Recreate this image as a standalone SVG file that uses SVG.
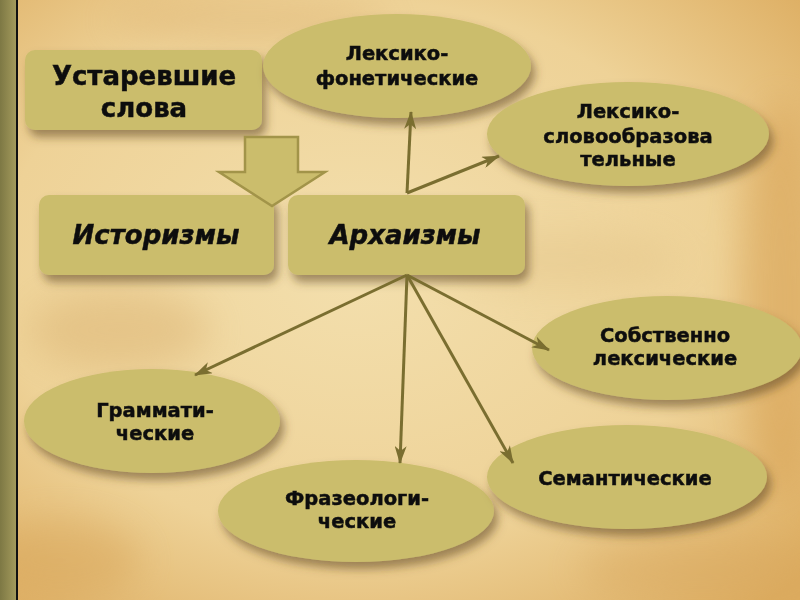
<svg xmlns="http://www.w3.org/2000/svg" width="800" height="600" viewBox="0 0 800 600">
<defs>
<style>
.node{fill:#cbbd6c}
.t{font-family:"DejaVu Sans","Liberation Sans",sans-serif;font-weight:bold;fill:#111;stroke:#111;stroke-width:0.5;text-anchor:middle}
.big{font-size:26px}
.it{font-style:italic}
.sm{font-size:19.5px}
.con{stroke:#7a6e30;stroke-width:3;fill:none;marker-end:url(#ah)}
</style>
<radialGradient id="bg" cx="45%" cy="45%" r="75%">
<stop offset="0" stop-color="#f3dfad"/>
<stop offset="0.6" stop-color="#eed297"/>
<stop offset="1" stop-color="#dcab5e"/>
</radialGradient>
<linearGradient id="strip" x1="0" y1="0" x2="1" y2="0">
<stop offset="0" stop-color="#7d7844"/>
<stop offset="1" stop-color="#a39a5c"/>
</linearGradient>
<filter id="sh" x="-20%" y="-20%" width="150%" height="160%">
<feDropShadow dx="4" dy="7" stdDeviation="5" flood-color="#5b4420" flood-opacity="0.55"/>
</filter>
<filter id="blur" x="-50%" y="-50%" width="200%" height="200%">
<feGaussianBlur stdDeviation="18"/>
</filter>
<marker id="ah" viewBox="0 0 18 12" refX="17" refY="6" markerWidth="18" markerHeight="12" markerUnits="userSpaceOnUse" orient="auto">
<path d="M0,0 L18,6 L0,12 L5,6 z" fill="#7a6e30"/>
</marker>
</defs>
<rect x="0" y="0" width="800" height="600" fill="url(#bg)"/>
<g filter="url(#blur)" opacity="0.45">
<ellipse cx="120" cy="330" rx="90" ry="40" fill="#d9b070"/>
<ellipse cx="560" cy="260" rx="120" ry="30" fill="#e3c488"/>
<ellipse cx="780" cy="300" rx="40" ry="200" fill="#d49a48"/>
<ellipse cx="60" cy="560" rx="80" ry="40" fill="#d7a458"/>
<ellipse cx="700" cy="570" rx="120" ry="30" fill="#d8a860"/>
<ellipse cx="250" cy="20" rx="140" ry="20" fill="#dcb070"/>
</g>
<rect x="0" y="0" width="16" height="600" fill="url(#strip)"/>
<rect x="16" y="0" width="2" height="600" fill="#111"/>

<g id="ustarevshie" filter="url(#sh)">
<rect x="25" y="50" width="237" height="80" rx="10" class="node"/>
<text class="t big" x="144" y="85">Устаревшие</text>
<text class="t big" x="144" y="117">слова</text>
</g>
<g id="istorizmy" filter="url(#sh)">
<rect x="39" y="195" width="235" height="80" rx="10" class="node"/>
<text class="t big it" x="156" y="244">Историзмы</text>
</g>
<g id="arhaizmy" filter="url(#sh)">
<rect x="288" y="195" width="237" height="80" rx="10" class="node"/>
<text class="t big it" x="405" y="244">Архаизмы</text>
</g>

<g id="arrow-big">
<path d="M245,137 L298,137 L298,172 L325,172 L272,206 L219,172 L245,172 Z" class="node" stroke="#a29449" stroke-width="2.5"/>
</g>

<g id="leks-fon" filter="url(#sh)">
<ellipse cx="397" cy="66" rx="134" ry="52" class="node"/>
<text class="t sm" x="397" y="60">Лексико-</text>
<text class="t sm" x="397" y="85">фонетические</text>
</g>
<g id="leks-slov" filter="url(#sh)">
<ellipse cx="628" cy="134" rx="141" ry="52" class="node"/>
<text class="t sm" x="628" y="118">Лексико-</text>
<text class="t sm" x="628" y="143">словообразова</text>
<text class="t sm" x="628" y="166">тельные</text>
</g>
<g id="sobstv" filter="url(#sh)">
<ellipse cx="667" cy="348" rx="135" ry="52" class="node"/>
<text class="t sm" x="665" y="342">Собственно</text>
<text class="t sm" x="665" y="365">лексические</text>
</g>
<g id="gramm" filter="url(#sh)">
<ellipse cx="152" cy="421" rx="128" ry="52" class="node"/>
<text class="t sm" x="155" y="417">Граммати-</text>
<text class="t sm" x="155" y="440">ческие</text>
</g>
<g id="fraz" filter="url(#sh)">
<ellipse cx="356" cy="511" rx="138" ry="51" class="node"/>
<text class="t sm" x="357" y="505">Фразеологи-</text>
<text class="t sm" x="357" y="528">ческие</text>
</g>
<g id="semant" filter="url(#sh)">
<ellipse cx="627" cy="477" rx="140" ry="52" class="node"/>
<text class="t sm" x="625" y="485">Семантические</text>
</g>

<g id="connectors">
<line class="con" x1="407" y1="193" x2="411" y2="112"/>
<line class="con" x1="407" y1="193" x2="499" y2="156"/>
<line class="con" x1="407" y1="275" x2="195" y2="375"/>
<line class="con" x1="407" y1="275" x2="400" y2="463"/>
<line class="con" x1="407" y1="275" x2="513" y2="463"/>
<line class="con" x1="407" y1="275" x2="549" y2="350"/>
</g>
</svg>
